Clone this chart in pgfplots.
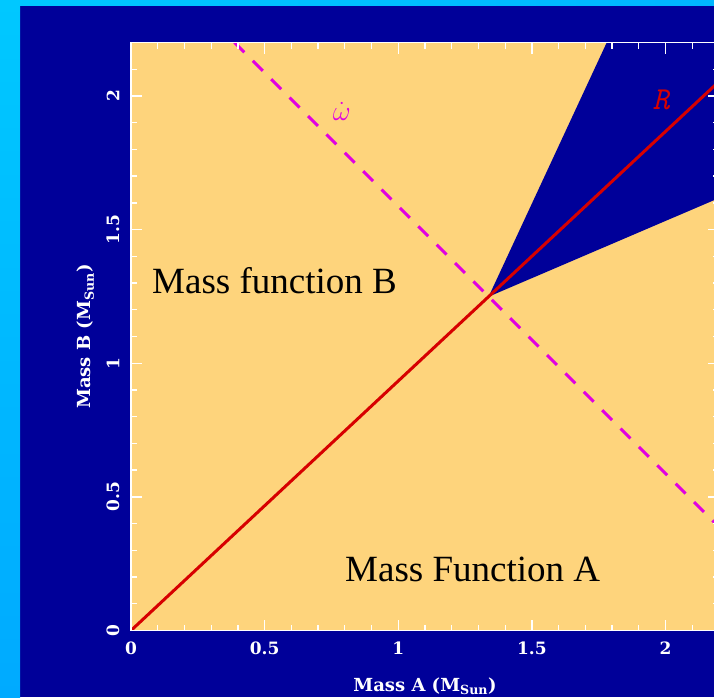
\documentclass[border=0pt]{standalone}
\usepackage{pgfplots}
\pgfplotsset{compat=1.18}
\usepackage{fontspec}
\setmainfont{Liberation Serif}
\newfontfamily\plotfont{DejaVu Serif}

\definecolor{navy}{RGB}{0,0,153}
\definecolor{sand}{RGB}{254,212,124}
\definecolor{rline}{RGB}{215,0,0}
\definecolor{mline}{RGB}{225,0,225}
\definecolor{cyanA}{RGB}{0,200,255}
\definecolor{cyanB}{RGB}{0,170,255}
\definecolor{cyanC}{RGB}{0,182,255}

\begin{document}
\begin{tikzpicture}[x=1pt,y=1pt]
  \path[use as bounding box] (0,0) rectangle (714,697);
  % slide background with its light frame strips
  \fill[navy] (0,0) rectangle (714,697);
  \shade[top color=cyanA, bottom color=cyanB] (0,0) rectangle (20,697);
  \shade[left color=cyanA, right color=cyanC] (0,691) rectangle (714,697);

  \begin{axis}[
    at={(131pt,66.5pt)}, anchor=south west,
    scale only axis, width=588pt, height=588pt,
    xmin=0, xmax=2.2, ymin=0, ymax=2.2,
    axis background/.style={fill=sand},
    axis on top,
    axis line style={white, line width=1.5pt},
    xtick={0,0.5,1,1.5,2}, ytick={0,0.5,1,1.5,2},
    minor xtick={0.1,0.2,0.3,0.4,0.6,0.7,0.8,0.9,1.1,1.2,1.3,1.4,1.6,1.7,1.8,1.9,2.1},
    minor ytick={0.1,0.2,0.3,0.4,0.6,0.7,0.8,0.9,1.1,1.2,1.3,1.4,1.6,1.7,1.8,1.9,2.1},
    tick align=inside, tick pos=both,
    major tick length=11pt, minor tick length=6pt,
    every tick/.style={white, line width=1.3pt},
    /pgf/number format/assume math mode=true,
    ticklabel style={text=white, font=\plotfont\bfseries\fontsize{17}{17}\selectfont, inner sep=0pt},
    xticklabel shift=11pt,
    yticklabel style={rotate=90, anchor=south},
    yticklabel shift=11.5pt,
    xlabel={Mass A (M\textsubscript{Sun})},
    ylabel={Mass B (M\textsubscript{Sun})},
    label style={text=white, font=\plotfont\bfseries\fontsize{18}{18}\selectfont, inner sep=0pt},
    xlabel style={at={(axis description cs:0.5,-0.1030)}, anchor=base},
    ylabel style={at={(axis description cs:-0.0689,0.5)}, anchor=base, rotate=0},
  ]
    % region left open by both mass functions
    \addplot[draw=none, fill=navy] coordinates {
      (1.338,1.249) (1.780,2.2) (2.2,2.2) (2.2,1.618)
    } -- cycle;
    % mass ratio R
    \addplot[rline, line width=3pt] coordinates {(0,0) (2.2,2.054)};
    % periastron advance
    \addplot[mline, line width=3pt, dash pattern=on 14pt off 12pt]
      coordinates {(0.387,2.2) (2.2,0.387)};

    \node[text=rline, font=\ttfamily\itshape\fontsize{32}{32}\selectfont]
      at (axis cs:1.983,1.987) {R};
    \node[text=mline, font=\fontsize{17}{17}\selectfont, inner sep=0pt]
      at (axis cs:0.789,1.943) {\scalebox{1.6}{$\dot{\omega}$}};
    \node[anchor=base west, font=\fontsize{37}{37}\selectfont, inner sep=0pt]
      at (axis cs:0.0786,1.2626) {Mass function B};
    \node[anchor=base west, font=\fontsize{37}{37}\selectfont, inner sep=0pt]
      at (axis cs:0.8006,0.185) {Mass Function A};
  \end{axis}
\end{tikzpicture}
\end{document}
